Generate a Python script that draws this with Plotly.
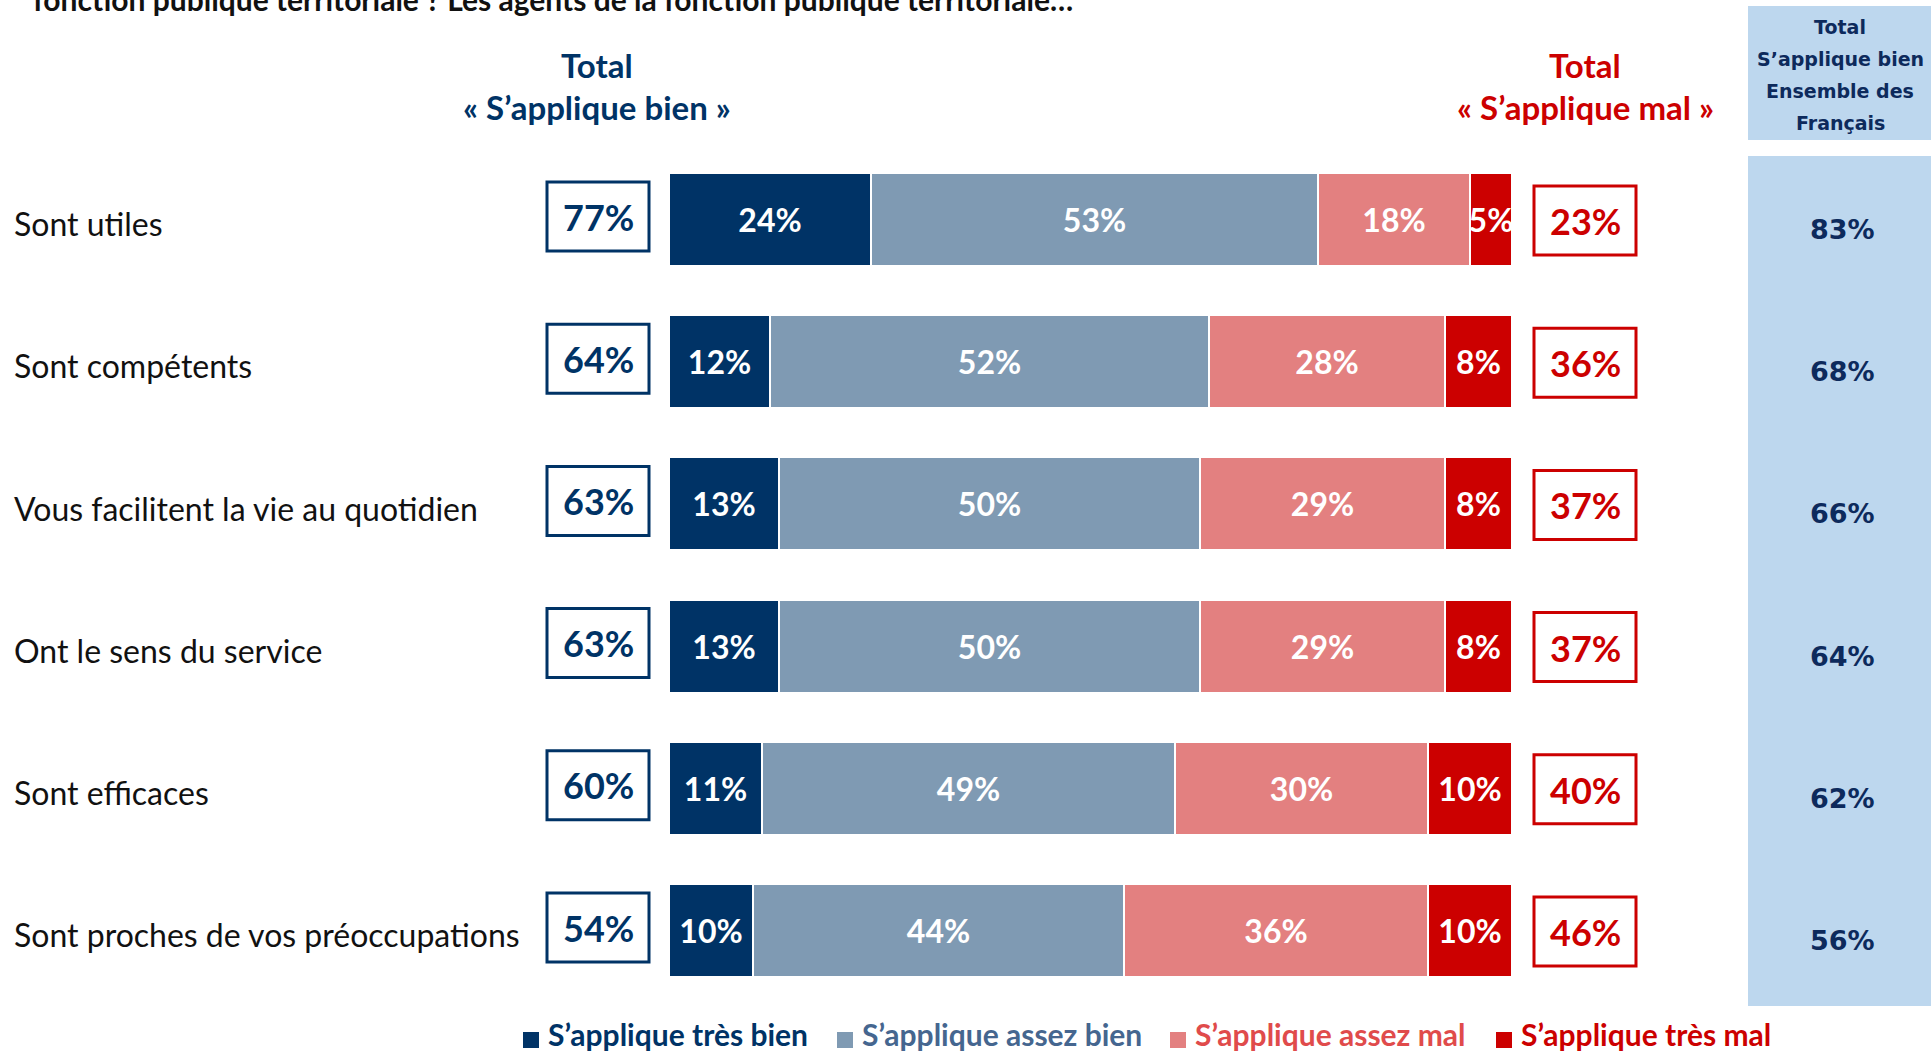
import plotly.graph_objects as go

categories = ["Sont utiles", "Sont compétents", "Vous facilitent la vie au quotidien",
              "Ont le sens du service", "Sont efficaces", "Sont proches de vos préoccupations"]
tres_bien = [24, 12, 13, 13, 11, 10]
assez_bien = [53, 52, 50, 50, 49, 44]
assez_mal = [18, 28, 29, 29, 30, 36]
tres_mal = [5, 8, 8, 8, 10, 10]
total_bien = [77, 64, 63, 63, 60, 54]
total_mal = [23, 36, 37, 37, 40, 46]
ensemble = [83, 68, 66, 64, 62, 56]
series_names = ["S’applique très bien", "S’applique assez bien", "S’applique assez mal", "S’applique très mal"]

NAVY = "#003366"
STEEL = "#7F9AB3"
SALMON = "#E38080"
RED = "#CC0000"
LIGHT = "#BDD7EE"
DARKTXT = "#0D2A5C"
FONT = "Lato"

W, H = 1931, 1055
px_per_unit = 8.43
x0px = 669
xmin = -x0px / px_per_unit
xmax = (W - x0px) / px_per_unit
row0px, rowstep = 219.5, 142.2
ytop = -row0px / rowstep
ybot = (H - row0px) / rowstep

def xd(px):
    return (px - x0px) / px_per_unit

def yd(px):
    return (px - row0px) / rowstep

fig = go.Figure()
ys = list(range(len(categories)))
series = [tres_bien, assez_bien, assez_mal, tres_mal]
colors = [NAVY, STEEL, SALMON, RED]
legend_txt = [NAVY, "#45668F", "#E04B4B", RED]
for vals, col, name in zip(series, colors, series_names):
    fig.add_trace(go.Bar(
        y=ys, x=vals, orientation="h", width=0.654,
        marker=dict(color=col, line=dict(color="white", width=2)),
        text=[f"{v}%" for v in vals], textposition="inside", insidetextanchor="middle",
        textangle=0, constraintext="none", cliponaxis=True,
        textfont=dict(family=FONT, size=32, color="white", weight="bold"),
        name=name, showlegend=False, hoverinfo="skip",
    ))

shapes = []
annotations = []
shapes.append(dict(type="rect", xref="x", yref="y", x0=xd(1748), x1=xd(1935), y0=yd(6), y1=yd(140),
                   fillcolor=LIGHT, line=dict(width=0), layer="below"))
shapes.append(dict(type="rect", xref="x", yref="y", x0=xd(1748), x1=xd(1935), y0=yd(156), y1=yd(1006),
                   fillcolor=LIGHT, line=dict(width=0), layer="below"))
hdr_lines = ["Total", "S’applique bien", "Ensemble des", "Français"]
for i, t in enumerate(hdr_lines):
    annotations.append(dict(x=xd(1840), y=yd(27 + 32 * i), xref="x", yref="y", text=t, showarrow=False,
                            font=dict(family="DejaVu Sans", size=19, color=DARKTXT, weight="bold")))

for i, cat in enumerate(categories):
    annotations.append(dict(x=xd(12), y=i + 0.03, xref="x", yref="y", text=cat, showarrow=False,
                            xanchor="left", font=dict(family=FONT, size=32, color="#111111")))
    shapes.append(dict(type="rect", xref="x", yref="y", x0=xd(547), x1=xd(649),
                       y0=yd(219.5 + 142.2 * i - 3 - 34.5), y1=yd(219.5 + 142.2 * i - 3 + 34.5),
                       line=dict(color=NAVY, width=3), fillcolor="white"))
    annotations.append(dict(x=xd(598), y=i - 0.02, xref="x", yref="y", text=f"{total_bien[i]}%", showarrow=False,
                            font=dict(family=FONT, size=36, color=NAVY, weight="bold")))
    shapes.append(dict(type="rect", xref="x", yref="y", x0=xd(1534), x1=xd(1636),
                       y0=yd(219.5 + 142.2 * i + 1 - 34.5), y1=yd(219.5 + 142.2 * i + 1 + 34.5),
                       line=dict(color=RED, width=3), fillcolor="white"))
    annotations.append(dict(x=xd(1585), y=i + 0.01, xref="x", yref="y", text=f"{total_mal[i]}%", showarrow=False,
                            font=dict(family=FONT, size=36, color=RED, weight="bold")))
    annotations.append(dict(x=xd(1842), y=i + 0.07, xref="x", yref="y", text=f"{ensemble[i]}%", showarrow=False,
                            font=dict(family="DejaVu Sans", size=27, color=DARKTXT, weight="bold")))

for txt, xpx, col, ypx in [("Total", 597, NAVY, 65), ("« S’applique bien »", 597, NAVY, 107),
                           ("Total", 1585, RED, 65), ("« S’applique mal »", 1585, RED, 107)]:
    annotations.append(dict(x=xd(xpx), y=yd(ypx), xref="x", yref="y", text=txt, showarrow=False,
                            font=dict(family=FONT, size=33, color=col, weight="bold")))

# legend (swatches + coloured labels)
legend_x = [523, 837, 1170, 1496]
legend_sq_y = 1040
legend_txt_y = 1034
for lx, col, name, tcol in zip(legend_x, colors, series_names, legend_txt):
    shapes.append(dict(type="rect", xref="paper", yref="paper",
                       x0=lx / W, x1=(lx + 16) / W, y0=1 - (legend_sq_y + 8) / H, y1=1 - (legend_sq_y - 8) / H,
                       fillcolor=col, line=dict(width=0)))
    annotations.append(dict(x=(lx + 23) / W, y=1 - legend_txt_y / H, xref="paper", yref="paper", xanchor="left",
                            yanchor="middle", text=name, showarrow=False,
                            font=dict(family=FONT, size=30, color=tcol, weight="bold")))

# cut-off question line at the very top
annotations.append(dict(x=31 / W, y=1 + 1 / H, xref="paper", yref="paper", xanchor="left", yanchor="middle",
                        text="fonction publique territoriale ? Les agents de la fonction publique territoriale…",
                        showarrow=False, font=dict(family=FONT, size=30, color="#111111", weight="bold")))

fig.update_layout(
    width=W, height=H, barmode="stack", bargap=0,
    margin=dict(l=0, r=0, t=0, b=0),
    paper_bgcolor="white", plot_bgcolor="white",
    xaxis=dict(range=[xmin, xmax], visible=False, fixedrange=True),
    yaxis=dict(range=[ybot, ytop], visible=False, fixedrange=True),
    shapes=shapes, annotations=annotations,
    showlegend=False,
)
fig.write_html("out.html", config={"displayModeBar": False},
               post_script="document.body.style.margin='0';document.body.style.overflow='hidden';")
